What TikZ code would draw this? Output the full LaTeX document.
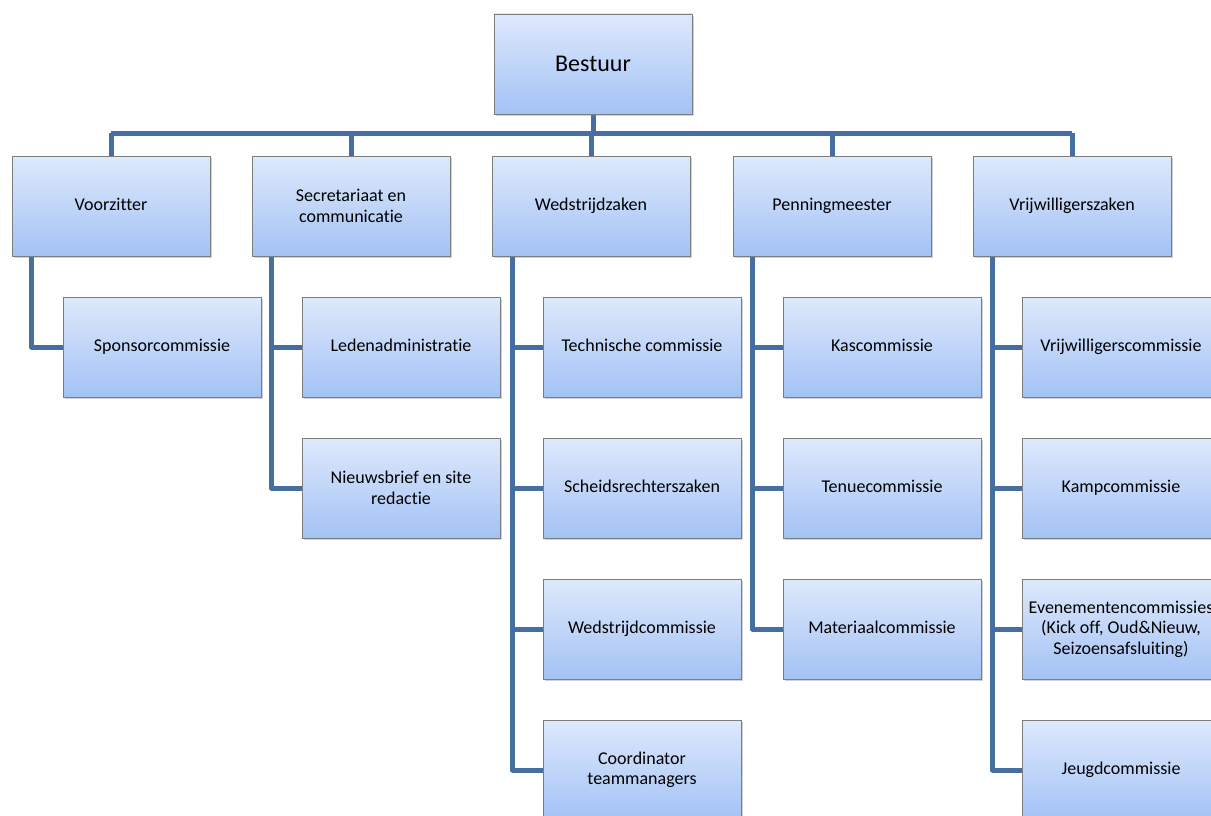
\documentclass[tikz,border=0pt]{standalone}
\usepackage{fontspec}
\setmainfont{Carlito}[Ligatures={NoCommon}]
\usetikzlibrary{shadows,backgrounds}
\definecolor{linec}{RGB}{70,110,160}
\definecolor{boxtop}{RGB}{222,233,252}
\definecolor{boxbot}{RGB}{163,194,245}
\definecolor{boxline}{RGB}{125,125,125}
\tikzset{
  orgbox/.style={rectangle, draw=boxline, line width=0.8pt,
    top color=boxtop, bottom color=boxbot,
    minimum width=198pt, minimum height=100pt, inner sep=2pt,
    align=center, font=\fontsize{18}{20.5}\selectfont,
    drop shadow={opacity=0.35, shadow xshift=2pt, shadow yshift=-2pt}},
  topbox/.style={orgbox, font=\fontsize{24}{28}\selectfont},
  conn/.style={draw=linec, line width=5pt, line join=round}
}
\begin{document}
\begin{tikzpicture}[x=1pt,y=-1pt]
\useasboundingbox (0,0) rectangle (1211,816);
\clip (0,0) rectangle (1211,816);
% top
\node[topbox] (b) at (593,64) {Bestuur};
% level 1
\node[orgbox] (v)  at (111,206) {Voorzitter\strut};
\node[orgbox] (s)  at (351,206) {Secretariaat en\\communicatie};
\node[orgbox] (w)  at (591,206) {Wedstrijdzaken\strut};
\node[orgbox] (p)  at (832,206) {Penningmeester\strut};
\node[orgbox] (vr) at (1072,206) {Vrijwilligerszaken\strut};
% level 2
\node[orgbox] (v1) at (162,347) {Sponsorcommissie\strut};
\node[orgbox] (s1) at (401,347) {Ledenadministratie\strut};
\node[orgbox] (s2) at (401,488) {Nieuwsbrief en site\\redactie};
\node[orgbox] (w1) at (642,347) {Technische commissie\strut};
\node[orgbox] (w2) at (642,488) {Scheidsrechterszaken\strut};
\node[orgbox] (w3) at (642,629) {Wedstrijdcommissie\strut};
\node[orgbox] (w4) at (642,770) {Coordinator\\teammanagers};
\node[orgbox] (p1) at (882,347) {Kascommissie\strut};
\node[orgbox] (p2) at (882,488) {Tenuecommissie\strut};
\node[orgbox] (p3) at (882,629) {Materiaalcommissie\strut};
\node[orgbox] (r1) at (1121,347) {Vrijwilligerscommissie\strut};
\node[orgbox] (r2) at (1121,488) {Kampcommissie\strut};
\node[orgbox] (r3) at (1121,629) {Evenementencommissies\\(Kick off, Oud\&Nieuw,\\Seizoensafsluiting)};
\node[orgbox] (r4) at (1121,770) {Jeugdcommissie\strut};
\coordinate (bus) at (593,133);
\begin{scope}[on background layer]
\fill[white] (0,0) rectangle (1211,816);
\draw[conn] (b.south) -- (bus);
\draw[conn] (bus -| v.north) -- (bus -| vr.north);
\foreach \n in {v,s,w,p,vr} {\draw[conn] (\n.north) -- (\n.north |- bus);}
\draw[conn] ([xshift=20pt]v.south west) |- (v1.west);
\foreach \c in {s1,s2} {\draw[conn] ([xshift=20pt]s.south west) |- (\c.west);}
\foreach \c in {w1,w2,w3,w4} {\draw[conn] ([xshift=21pt]w.south west) |- (\c.west);}
\foreach \c in {p1,p2,p3} {\draw[conn] ([xshift=20pt]p.south west) |- (\c.west);}
\foreach \c in {r1,r2,r3,r4} {\draw[conn] ([xshift=20pt]vr.south west) |- (\c.west);}
\end{scope}
\end{tikzpicture}
\end{document}
